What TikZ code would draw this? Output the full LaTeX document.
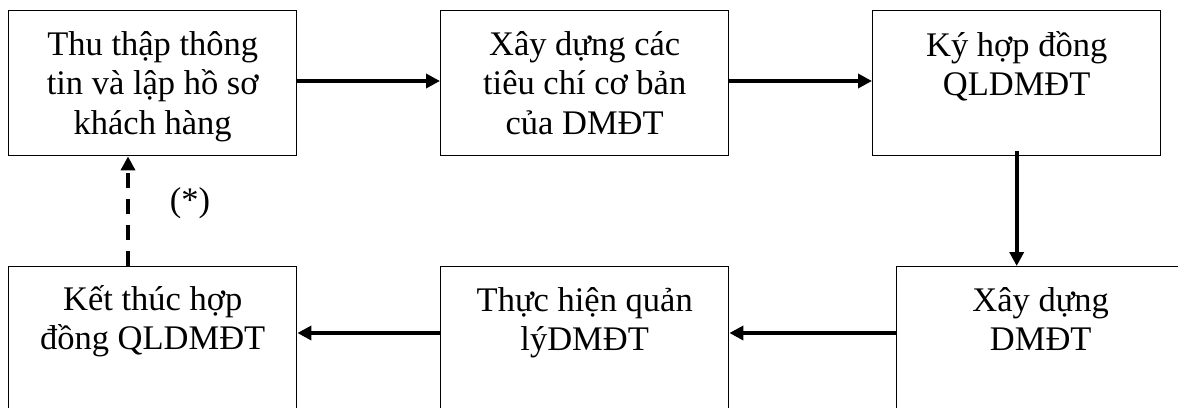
\documentclass[tikz,border=0pt]{standalone}
\usepackage{fontspec}
\setmainfont{Liberation Serif}
\usetikzlibrary{arrows.meta,positioning}
\begin{document}
\begin{tikzpicture}[x=1pt,y=-1pt,
  box/.style={draw,line width=1.4pt,rectangle,anchor=north west,inner sep=0pt,
    minimum width=288pt},
  topbox/.style={box,minimum height=145pt},
  botbox/.style={box,minimum height=170pt},
  txt/.style={anchor=north,align=center,inner sep=0pt,
    font=\fontsize{34.5}{39.5}\selectfont},
  arr/.style={line width=3.8pt,-{Triangle[length=14pt,width=14pt]}},
  darr/.style={arr,dash pattern=on 15pt off 11pt}]
\useasboundingbox (0,0) rectangle (1178,407);
\clip (0,0) rectangle (1178,407);
\fill[white] (0,0) rectangle (1178,407);
% boxes
\node[topbox] (b1) at (8,10) {};
\node[topbox] (b2) at (440,10) {};
\node[topbox] (b3) at (872,10) {};
\node[botbox] (b4) at (896,266) {};
\node[botbox] (b5) at (440,266) {};
\node[botbox] (b6) at (8,266) {};
% texts
\node[txt] (t1) at ([yshift=-21pt]b1.north) {Thu thập thông\\tin và lập hồ sơ\\khách hàng};
\node[txt] (t2) at ([yshift=-21pt]b2.north) {Xây dựng các\\tiêu chí cơ bản\\của DMĐT};
\node[txt] (t3) at ([yshift=-21pt]b3.north) {Ký hợp đồng\\QLDMĐT};
\node[txt] (t4) at ([yshift=-21pt]b4.north) {Xây dựng\\DMĐT};
\node[txt] (t5) at ([yshift=-21pt]b5.north) {Thực hiện quản\\lýDMĐT};
\node[txt] (t6) at ([yshift=-19pt]b6.north) {Kết thúc hợp\\đồng QLDMĐT};
\node[font=\fontsize{34.5}{39.5}\selectfont,inner sep=0pt] (star) at (190,203) {(*)};
% helper coordinates
\coordinate (r1) at (0,81);
\coordinate (r2) at (0,333);
\coordinate (dx) at (128,0);
% connectors
\draw[arr] (b1.east |- r1) -- (b2.west |- r1);
\draw[arr] (b2.east |- r1) -- (b3.west |- r1);
\draw[arr] ([yshift=5pt]b3.south) -- (b3.south |- b4.north);
\draw[arr] (b4.west |- r2) -- (b5.east |- r2);
\draw[arr] (b5.west |- r2) -- (b6.east |- r2);
\draw[darr] (dx |- b6.north) -- (dx |- b1.south);
\end{tikzpicture}
\end{document}
